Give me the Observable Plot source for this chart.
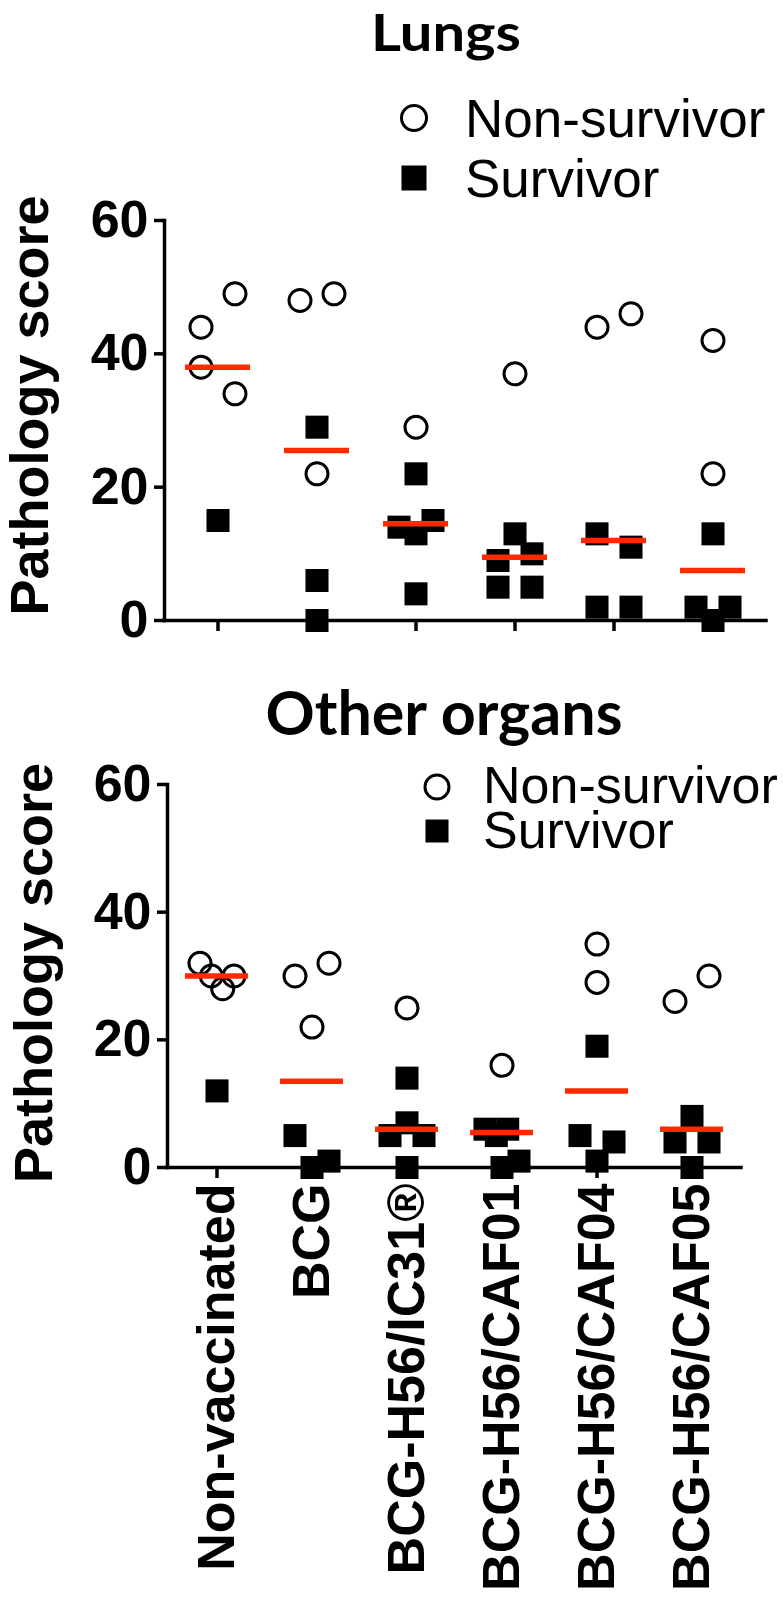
<!DOCTYPE html>
<html>
<head>
<meta charset="utf-8">
<script src="https://cdn.jsdelivr.net/npm/d3@7"></script>
<script src="https://cdn.jsdelivr.net/npm/@observablehq/plot@0.6"></script>
<style>
  html, body { margin: 0; padding: 0; background: #fff; }
  #page { position: relative; width: 783px; height: 1599px; overflow: hidden; background: #fff; }
  #page > svg { position: absolute; left: 0; }
</style>
</head>
<body>
<div id="page"></div>
<script>
// ---------------- data ----------------
const groups = ["Non-vaccinated", "BCG", "BCG-H56/IC31®", "BCG-H56/CAF01", "BCG-H56/CAF04", "BCG-H56/CAF05"];
const outcomes = ["Non-survivor", "Survivor"];
const panelTitles = ["Lungs", "Other organs"];
const yLabel = "Pathology score";
const yTicks = [0, 20, 40, 60];

// Lungs pathology score, one list per group (same order as groups)
const lungsNonSurvivor = [[44, 49, 38, 34], [48, 49, 22], [29], [37], [44, 46], [42, 22]];
const lungsSurvivor = [[15], [29, 6, 0], [22, 14, 13, 15, 4], [9, 13, 10, 5, 5], [13, 11, 2, 2], [13, 2, 0, 2]];

// Other organs pathology score
const otherNonSurvivor = [[32, 30, 28, 30], [30, 32, 22], [25], [16], [35, 29], [26, 30]];
const otherSurvivor = [[12], [5, 0, 1], [14, 5, 7, 5, 0], [6, 5, 6, 1, 0], [19, 5, 1, 4], [4, 8, 4, 0]];

// ---------------- helpers ----------------
function toRows(nonSurv, surv) {
  const rows = [];
  let order = 0;
  groups.forEach((g, i) => {
    nonSurv[i].forEach(v => rows.push({group: g, outcome: outcomes[0], value: v, order: order++}));
    surv[i].forEach(v => rows.push({group: g, outcome: outcomes[1], value: v, order: order++}));
  });
  return rows;
}

// column-scatter spreading: points whose positions fall within one symbol row are spread sideways
function spread(data, pxPerUnit, rowPx, halfWidth) {
  for (const g of groups) {
    const pts = data.filter(d => d.group === g).sort((a, b) => b.value - a.value || a.order - b.order);
    const rows = [];
    let row = [];
    for (const p of pts) {
      if (row.length && (row[0].value - p.value) * pxPerUnit > rowPx) { rows.push(row); row = []; }
      row.push(p);
    }
    if (row.length) rows.push(row);
    for (const r of rows) {
      r.sort((a, b) => a.order - b.order);
      const n = r.length;
      r.forEach((p, i) => { p.offset = n === 1 ? 0 : Math.round((-halfWidth + 2 * halfWidth * i / (n - 1)) * 10) / 10; });
    }
  }
  return data;
}

const FONT = "'Liberation Sans', Arial, Helvetica, sans-serif";
const TITLE_FONT = "Lato, 'Open Sans', sans-serif";
const RED = "#ff2a00";

function panel(cfg) {
  const {data, width, height, marginTop, marginBottom, marginLeft, marginRight, paddingOuter, showLabels, labelDx, labelDy} = cfg;
  const k = (height - marginTop - marginBottom) / 60;
  spread(data, k, 34, 17);
  const offsets = Array.from(new Set(data.map(d => d.offset)));
  const marks = [
    Plot.frame({anchor: "left", strokeWidth: 3.5}),
    Plot.ruleY([0], {strokeWidth: 3.5, strokeLinecap: "square"}),
    Plot.axisY({ticks: yTicks, tickSize: 10, tickPadding: 6, strokeWidth: 3.5, fontSize: 52, fontWeight: "bold", label: null}),
    Plot.axisX({
      tickSize: 11, tickPadding: 5, strokeWidth: 3.5, fontSize: 52, fontWeight: "bold", label: null,
      tickRotate: showLabels ? -90 : 0,
      tickFormat: showLabels ? (d => d) : (() => "")
    })
  ];
  for (const o of offsets) {
    const sub = data.filter(d => d.offset === o);
    marks.push(Plot.dot(sub.filter(d => d.outcome === "Survivor"),
      {x: "group", y: "value", dx: o, symbol: "square", r: 13, fill: "black", stroke: "none"}));
    marks.push(Plot.dot(sub.filter(d => d.outcome === "Non-survivor"),
      {x: "group", y: "value", dx: o, symbol: "circle", r: 11, fill: "none", stroke: "black", strokeWidth: 3}));
  }
  marks.push(Plot.tickY(data, Plot.groupX({y: "median"}, {x: "group", y: "value", stroke: RED, strokeWidth: 5.5})));
  marks.push(Plot.text([yLabel], {
    text: d => d, frameAnchor: "left", rotate: -90, dx: labelDx, dy: labelDy,
    lineAnchor: "bottom", textAnchor: "middle", fontSize: 54, fontWeight: "bold", fill: "black"
  }));
  return Plot.plot({
    width, height, marginTop, marginBottom, marginLeft, marginRight,
    style: {fontFamily: FONT, fontWeight: "bold", color: "black", background: "transparent", overflow: "visible"},
    x: {type: "band", domain: groups, paddingInner: 0.34, paddingOuter, axis: null},
    y: {domain: [0, 60], axis: null},
    marks
  });
}

const page = document.getElementById("page");

const lungsChart = panel({
  data: toRows(lungsNonSurvivor, lungsSurvivor),
  width: 783, height: 660, marginTop: 220, marginBottom: 40, marginLeft: 164, marginRight: 17,
  paddingOuter: 0.18, showLabels: false, labelDx: -117, labelDy: -15
});
lungsChart.style.top = "0px";
page.appendChild(lungsChart);

const otherChart = panel({
  data: toRows(otherNonSurvivor, otherSurvivor),
  width: 783, height: 939, marginTop: 124, marginBottom: 432, marginLeft: 167, marginRight: 42,
  paddingOuter: 0.172, showLabels: true, labelDx: -116, labelDy: -3
});
otherChart.style.top = "660px";
page.appendChild(otherChart);

// ---------------- titles and legends ----------------
const overlay = d3.create("svg")
  .attr("width", 783).attr("height", 1599)
  .style("top", "0px").style("pointer-events", "none");

const titleSpecs = [
  {text: panelTitles[0], x: 446, y: 51, size: 52, length: 150},
  {text: panelTitles[1], x: 444, y: 735, size: 61, length: null}
];
for (const t of titleSpecs) {
  const el = overlay.append("text").attr("x", t.x).attr("y", t.y).attr("text-anchor", "middle")
    .attr("font-family", TITLE_FONT).attr("font-weight", 700)
    .attr("font-size", t.size).attr("fill", "black").text(t.text);
  if (t.length) el.attr("textLength", t.length).attr("lengthAdjust", "spacingAndGlyphs");
}

const legendSpecs = [
  {sx: 414, tx: 465, rows: [{cy: 118, base: 137}, {cy: 178, base: 197}], size: 53, r: 12.5, side: 25},
  {sx: 437, tx: 483, rows: [{cy: 787, base: 803}, {cy: 831, base: 848}], size: 52, r: 12, side: 23}
];
for (const L of legendSpecs) {
  const g = overlay.append("g");
  g.append("circle").attr("cx", L.sx).attr("cy", L.rows[0].cy).attr("r", L.r)
    .attr("fill", "none").attr("stroke", "black").attr("stroke-width", 3);
  g.append("rect").attr("x", L.sx - L.side / 2).attr("y", L.rows[1].cy - L.side / 2)
    .attr("width", L.side).attr("height", L.side).attr("fill", "black");
  const txt = g.append("text").attr("font-family", FONT).attr("font-size", L.size).attr("fill", "black");
  outcomes.forEach((o, i) => {
    txt.append("tspan").attr("x", L.tx).attr("y", L.rows[i].base).text(o);
  });
}
page.appendChild(overlay.node());
</script>
</body>
</html>
